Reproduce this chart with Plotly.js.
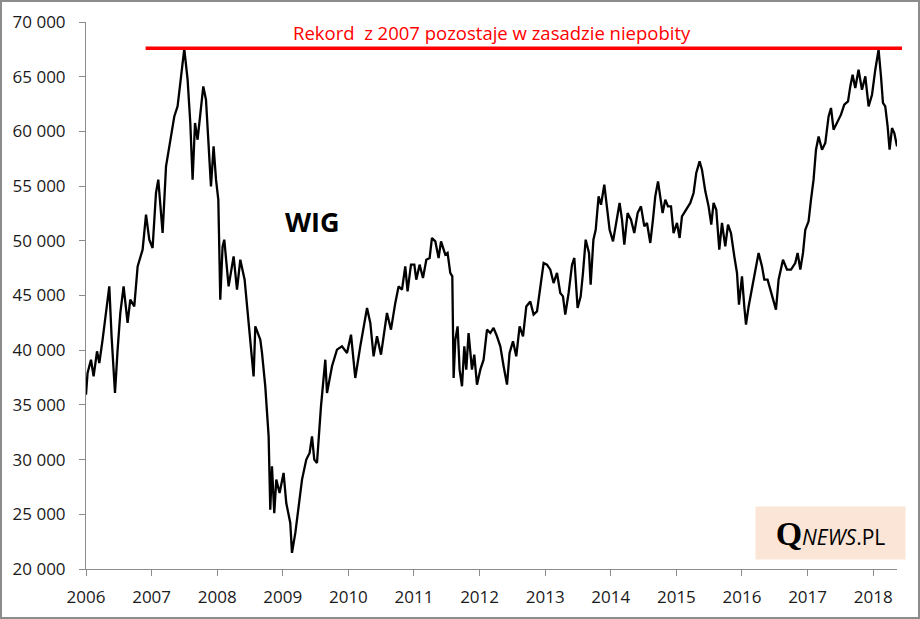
<!DOCTYPE html>
<html>
<head>
<meta charset="utf-8">
<script src="https://cdn.plot.ly/plotly-3.0.1.min.js"></script>
<style>
  body { margin: 0; background: #fff; }
  #chart { width: 916px; height: 615px; border: 2px solid #8c8c8c; }
</style>
</head>
<body>
<div id="chart"></div>
<script>
// WIG index (decimal year, points)
const years = [
  2006.000, 2006.024, 2006.076, 2006.116, 2006.168, 2006.203, 2006.253, 2006.329, 2006.355, 2006.390,
  2006.442, 2006.482, 2006.523, 2006.573, 2006.634, 2006.675, 2006.736, 2006.787, 2006.863, 2006.915,
  2006.965, 2007.015, 2007.067, 2007.102, 2007.168, 2007.220, 2007.285, 2007.346, 2007.396, 2007.448,
  2007.498, 2007.549, 2007.590, 2007.625, 2007.662, 2007.701, 2007.742, 2007.788, 2007.829, 2007.864,
  2007.905, 2007.945, 2007.982, 2008.017, 2008.047, 2008.082, 2008.108, 2008.174, 2008.250, 2008.302,
  2008.352, 2008.418, 2008.463, 2008.530, 2008.555, 2008.581, 2008.657, 2008.683, 2008.707, 2008.733,
  2008.784, 2008.809, 2008.835, 2008.870, 2008.901, 2008.951, 2009.012, 2009.053, 2009.114, 2009.140,
  2009.191, 2009.241, 2009.293, 2009.358, 2009.409, 2009.445, 2009.480, 2009.521, 2009.582, 2009.648,
  2009.674, 2009.750, 2009.826, 2009.902, 2009.979, 2010.040, 2010.105, 2010.181, 2010.284, 2010.334,
  2010.384, 2010.436, 2010.497, 2010.588, 2010.649, 2010.715, 2010.765, 2010.817, 2010.867, 2010.902,
  2010.954, 2011.005, 2011.035, 2011.085, 2011.137, 2011.188, 2011.238, 2011.274, 2011.325, 2011.375,
  2011.412, 2011.477, 2011.512, 2011.553, 2011.584, 2011.604, 2011.630, 2011.665, 2011.695, 2011.732,
  2011.767, 2011.797, 2011.832, 2011.884, 2011.919, 2011.960, 2012.011, 2012.061, 2012.113, 2012.163,
  2012.213, 2012.265, 2012.316, 2012.366, 2012.418, 2012.457, 2012.509, 2012.559, 2012.610, 2012.662,
  2012.712, 2012.773, 2012.823, 2012.875, 2012.925, 2012.976, 2013.027, 2013.078, 2013.128, 2013.180,
  2013.230, 2013.271, 2013.306, 2013.357, 2013.409, 2013.444, 2013.494, 2013.541, 2013.576, 2013.617,
  2013.668, 2013.693, 2013.735, 2013.770, 2013.814, 2013.851, 2013.901, 2013.942, 2013.982, 2014.034,
  2014.084, 2014.134, 2014.171, 2014.206, 2014.256, 2014.308, 2014.358, 2014.409, 2014.460, 2014.511,
  2014.552, 2014.602, 2014.643, 2014.678, 2014.720, 2014.755, 2014.790, 2014.831, 2014.872, 2014.918,
  2014.957, 2015.009, 2015.049, 2015.085, 2015.151, 2015.212, 2015.262, 2015.303, 2015.354, 2015.390,
  2015.441, 2015.491, 2015.532, 2015.567, 2015.608, 2015.654, 2015.695, 2015.745, 2015.787, 2015.832,
  2015.883, 2015.924, 2015.954, 2016.000, 2016.035, 2016.061, 2016.101, 2016.152, 2016.203, 2016.253,
  2016.305, 2016.340, 2016.390, 2016.442, 2016.482, 2016.518, 2016.558, 2016.625, 2016.686, 2016.747,
  2016.812, 2016.848, 2016.889, 2016.930, 2016.965, 2017.015, 2017.052, 2017.091, 2017.128, 2017.168,
  2017.220, 2017.270, 2017.320, 2017.357, 2017.396, 2017.457, 2017.509, 2017.559, 2017.616, 2017.651,
  2017.686, 2017.727, 2017.777, 2017.829, 2017.880, 2017.930, 2017.982, 2018.032, 2018.082, 2018.119,
  2018.149, 2018.184, 2018.220, 2018.250, 2018.287, 2018.322, 2018.363
];
const wig = [
  35930, 37920, 39130, 37610, 39900, 38830, 40960, 44920, 45830, 41270,
  36090, 40050, 43400, 45830, 42490, 44620, 44000, 47660, 49190, 52390,
  50100, 49340, 54370, 55590, 50710, 56800, 59240, 61370, 62290, 65030,
  67550, 64730, 60770, 55590, 60770, 59240, 61370, 64110, 62900, 59240,
  54980, 58630, 55590, 53760, 44620, 49490, 50100, 45830, 48580, 45530,
  48270, 46450, 43400, 39440, 37610, 42180, 40960, 39750, 38220, 36700,
  32120, 25420, 29380, 25110, 28170, 26950, 28780, 26030, 24210, 21470,
  23300, 25730, 28170, 30000, 30610, 32120, 30000, 29690, 34870, 39130,
  36090, 38530, 40050, 40350, 39750, 41420, 37460, 40350, 43860, 42490,
  39440, 41270, 39590, 43400, 41880, 44320, 45830, 45530, 47660, 45380,
  47820, 47820, 46450, 47820, 46600, 48270, 48430, 50260, 49950, 48430,
  49950, 48730, 48890, 47060, 46750, 37460, 40960, 42180, 38220, 36700,
  40350, 38220, 41570, 38220, 39590, 36850, 38220, 39130, 41880, 41570,
  42030, 41270, 40350, 38530, 36850, 39750, 40810, 39440, 42180, 41270,
  44000, 44460, 43250, 43550, 45530, 47970, 47820, 47360, 46140, 47060,
  45230, 44920, 43250, 45230, 47820, 48430, 43860, 44920, 47060, 50100,
  48890, 45990, 50100, 51010, 54060, 53300, 55130, 52840, 51010, 49950,
  51630, 53460, 51930, 49650, 52540, 51930, 50710, 52540, 53150, 51320,
  51630, 49800, 51930, 54060, 55430, 54060, 52540, 53760, 53150, 53150,
  50710, 51630, 50260, 52230, 52840, 53460, 54370, 56200, 57260, 56500,
  54520, 53150, 51480, 53460, 52840, 49190, 51630, 49490, 51480, 50710,
  48580, 47060, 44160, 46750, 44000, 42330, 44000, 45530, 47060, 48890,
  47660, 46450, 46450, 45230, 44310, 43710, 46450, 48270, 47360, 47360,
  47970, 48890, 47360, 48890, 51010, 51780, 53760, 55590, 58330, 59540,
  58330, 58940, 61370, 62140, 60160, 60920, 61530, 62440, 62750, 64110,
  65180, 63970, 65640, 63810, 65030, 62290, 63350, 65640, 67470, 65030,
  62600, 62290, 60460, 58330, 60310, 59850, 58630
];
const recordLevel = 67590;
const yearTicks = [2006, 2007, 2008, 2009, 2010, 2011, 2012, 2013, 2014, 2015, 2016, 2017, 2018];

const axisColor = "#8c8c8c";
const tickFont = { family: "Open Sans, sans-serif", size: 17, color: "#1a1a1a" };

Plotly.newPlot(
    "chart",
    [
        {
            x: years,
            y: wig,
            mode: "lines",
            line: { color: "#000000", width: 2.3 },
            hoverinfo: "skip",
        },
    ],
    {
        width: 916,
        height: 615,
        margin: { l: 84, r: 21, t: 20, b: 48 },
        paper_bgcolor: "#ffffff",
        plot_bgcolor: "#ffffff",
        showlegend: false,
        separators: ", ",
        xaxis: {
            range: [2006, 2018.363],
            tickvals: yearTicks,
            tickformat: "d",
            showgrid: false,
            zeroline: false,
            showline: true,
            linecolor: axisColor,
            linewidth: 1,
            ticks: "outside",
            ticklen: 6,
            tickcolor: axisColor,
            tickfont: tickFont,
            ticklabelstandoff: 7,
        },
        yaxis: {
            range: [20000, 70000],
            dtick: 5000,
            tick0: 20000,
            exponentformat: "none",
            separatethousands: true,
            showgrid: false,
            zeroline: false,
            showline: true,
            linecolor: axisColor,
            linewidth: 1,
            ticks: "outside",
            ticklen: 6,
            tickcolor: axisColor,
            tickfont: tickFont,
            ticklabelstandoff: 10,
        },
        shapes: [
            {
                type: "line",
                xref: "paper",
                yref: "y",
                x0: 0.0735,
                x1: 1.0062,
                y0: recordLevel,
                y1: recordLevel,
                line: { color: "#ff0000", width: 3.5 },
            },
        ],
        annotations: [
            {
                text: "Rekord\u00a0\u00a0z 2007 pozostaje w zasadzie niepobity",
                xref: "paper",
                yref: "paper",
                x: 0.5,
                y: 0.98,
                xanchor: "center",
                yanchor: "middle",
                showarrow: false,
                font: { family: "Open Sans, sans-serif", size: 18.5, color: "#ff0000" },
            },
            {
                text: "<b>WIG</b>",
                xref: "paper",
                yref: "paper",
                x: 0.2789,
                y: 0.636,
                xanchor: "center",
                yanchor: "middle",
                showarrow: false,
                font: { family: "Open Sans, sans-serif", size: 27, color: "#000000" },
            },
            {
                text: "<span style='font-family:Liberation Serif;font-size:34px;font-weight:bold'>Q</span><i>NEWS</i>.PL",
                xref: "paper",
                yref: "paper",
                x: 0.918,
                y: 0.0658,
                xanchor: "center",
                yanchor: "middle",
                width: 147,
                height: 50,
                bgcolor: "#fbe5d6",
                showarrow: false,
                font: { family: "Open Sans, sans-serif", size: 21, color: "#000000" },
            },
        ],
    },
    { staticPlot: true }
);
</script>
</body>
</html>
